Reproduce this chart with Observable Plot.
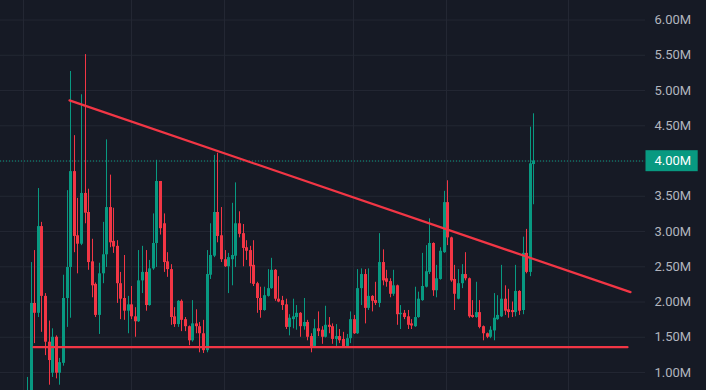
<!DOCTYPE html>
<html>
<head>
<meta charset="utf-8">
<script src="https://cdn.jsdelivr.net/npm/d3@7"></script>
<script src="https://cdn.jsdelivr.net/npm/@observablehq/plot@0.6"></script>
<style>
  html, body { margin: 0; padding: 0; background: #161a25; }
  #chart { width: 706px; height: 390px; overflow: hidden; }
</style>
</head>
<body>
<div id="chart"></div>
<script>
// OHLC values in millions, one entry per candle (left to right)
const open  = [0.55,0.62,1.98,1.84,3.07,2.08,1.43,0.99,1.50,0.99,1.13,2.05,2.49,3.85,2.94,2.82,3.54,3.27,2.57,2.25,1.81,2.40,2.67,3.34,2.86,2.79,2.26,2.05,1.87,1.96,1.79,1.72,2.30,2.42,1.95,2.47,2.83,3.71,3.11,2.57,2.46,1.79,1.68,2.01,1.75,1.65,1.45,1.69,1.65,1.55,1.31,2.38,2.65,3.27,2.94,2.60,2.50,2.60,2.65,3.11,2.97,2.77,2.73,2.52,2.26,2.05,1.88,2.08,2.19,2.45,2.04,2.02,1.96,1.64,1.75,1.78,1.84,1.65,1.71,1.51,1.37,1.62,1.60,1.50,1.67,1.65,1.47,1.51,1.47,1.37,1.48,1.75,1.55,2.19,2.39,1.91,2.08,2.02,1.98,2.56,2.33,2.29,2.11,2.23,1.82,1.84,1.79,1.69,1.65,1.78,2.02,2.21,2.42,2.83,2.16,2.32,2.70,3.41,2.91,2.32,2.04,2.26,2.39,2.33,1.81,1.78,1.85,1.65,1.55,1.50,1.59,1.75,1.79,2.04,1.89,1.88,1.85,2.15,1.88,2.69,2.42,3.95];
const high  = [0.93,2.56,2.73,3.61,3.13,2.12,1.73,1.62,1.52,1.20,2.38,3.58,5.27,4.36,3.47,4.94,5.51,3.60,2.89,2.27,2.55,3.13,4.30,3.80,3.33,2.87,2.42,2.66,2.08,2.22,1.92,2.73,2.79,2.73,2.59,3.25,4.01,3.71,3.25,2.70,2.53,1.92,2.02,2.03,1.78,1.66,2.02,1.89,1.71,1.74,2.73,3.11,4.08,4.11,3.34,2.73,2.69,3.40,3.69,3.28,3.10,2.87,2.79,2.87,2.28,2.21,2.21,2.46,2.62,2.46,2.36,2.08,2.04,1.82,2.04,1.95,1.85,2.05,1.74,1.55,1.75,1.86,1.65,1.94,1.78,1.69,1.68,1.61,1.57,1.54,1.86,1.81,2.46,2.47,2.46,2.47,2.09,2.28,2.97,2.74,2.45,2.33,2.45,2.24,1.95,1.88,1.88,1.75,2.21,2.14,2.69,2.80,3.18,2.84,2.52,2.77,3.57,3.72,2.92,2.52,2.46,2.53,2.70,2.34,2.02,2.28,2.02,1.66,1.56,1.65,2.12,2.09,2.52,2.23,2.18,2.00,2.52,2.16,2.92,3.03,4.48,4.67];
const low   = [0.50,0.58,1.41,1.78,1.57,1.24,0.82,0.93,0.91,0.82,1.09,1.64,1.77,2.70,2.40,2.80,3.11,2.45,2.06,1.78,1.54,2.26,2.49,2.77,2.69,1.98,1.75,1.74,1.55,1.75,1.50,1.71,2.12,1.87,1.94,2.45,2.49,2.95,2.42,2.35,1.67,1.64,1.64,1.58,1.58,1.38,1.43,1.55,1.28,1.27,1.28,2.32,2.63,2.84,2.56,2.49,2.12,2.23,2.49,2.91,2.50,2.59,2.26,2.22,1.84,1.77,1.87,2.07,2.18,2.01,1.99,1.88,1.61,1.52,1.62,1.60,1.50,1.60,1.45,1.28,1.36,1.51,1.40,1.49,1.55,1.40,1.37,1.41,1.35,1.35,1.41,1.54,1.54,1.95,1.69,1.88,1.86,1.95,1.92,2.23,2.21,2.06,2.08,1.67,1.61,1.75,1.61,1.61,1.64,1.77,2.01,2.20,2.39,2.08,2.06,2.31,2.69,2.80,2.28,1.88,2.03,2.19,2.30,1.77,1.77,1.77,1.62,1.45,1.48,1.48,1.45,1.74,1.78,1.81,1.77,1.78,1.79,1.81,1.82,2.40,2.36,3.38];
const close = [0.70,1.98,1.84,3.07,2.08,1.43,1.17,1.50,0.99,1.14,2.05,2.49,3.85,2.93,2.82,3.54,3.26,2.56,2.23,1.81,2.40,2.67,3.34,2.84,2.78,2.26,2.04,1.87,1.96,1.79,1.72,2.30,2.42,1.95,2.47,2.83,3.71,3.04,2.56,2.46,1.78,1.68,2.01,1.74,1.65,1.45,1.69,1.65,1.55,1.31,2.39,2.66,3.27,2.93,2.60,2.50,2.63,2.66,3.11,2.96,2.76,2.72,2.50,2.25,2.05,1.88,2.09,2.19,2.45,2.04,2.00,1.95,1.64,1.77,1.79,1.84,1.65,1.71,1.50,1.36,1.62,1.58,1.50,1.67,1.64,1.47,1.51,1.45,1.36,1.48,1.75,1.55,2.19,2.39,1.91,2.08,2.01,1.98,2.56,2.30,2.28,2.11,2.23,1.82,1.84,1.78,1.67,1.66,1.78,2.04,2.22,2.43,2.83,2.16,2.33,2.72,3.41,2.91,2.30,2.11,2.26,2.39,2.33,1.79,1.78,1.85,1.64,1.55,1.50,1.60,1.77,1.81,2.04,1.87,1.85,1.85,2.15,1.87,2.69,2.42,3.96,4.00];

// price axis ticks (millions)
const yTicks = [1.0, 1.5, 2.0, 2.5, 3.0, 3.5, 4.0, 4.5, 5.0, 5.5, 6.0];
// time grid positions (candle index)
const timeGrid = [-1.14, 28.9, 54.8, 90.8, 116.7, 150.7];
// drawn trendlines: [candle index, value]
const resistance = [[11.67, 4.86], [167.9, 2.14]];
const support = [[1.56, 1.359], [167.0, 1.359]];

const UP = "#089981", DOWN = "#f23645", LINE = "#f23645";
const GRID = "#232733", BG = "#161a25";

const candles = open.map((o, i) => ({i, o, h: high[i], l: low[i], c: close[i]}));
const color = d => d.c >= d.o ? UP : DOWN;
const last = close[close.length - 1];
const fmt = v => v.toFixed(2) + "M";

const chart = Plot.plot({
  width: 706,
  height: 390,
  marginTop: 0, marginBottom: 0, marginLeft: 0, marginRight: 61,
  style: {background: BG, fontFamily: "Roboto, 'Liberation Sans', sans-serif", fontSize: "13px", color: "#b2b5be"},
  x: {type: "linear", domain: [-7.55, 172.1], axis: null, round: true},
  y: {type: "linear", domain: [0.745, 6.277], axis: null},
  marks: [
    Plot.ruleY(yTicks, {stroke: GRID, strokeWidth: 1}),
    Plot.ruleX(timeGrid, {stroke: GRID, strokeWidth: 1}),
    Plot.axisY(yTicks, {anchor: "right", tickSize: 0, tickPadding: 9, tickFormat: fmt, fill: "#b2b5be", fontSize: 13}),
    Plot.ruleY([last], {stroke: UP, strokeDasharray: "1,2", strokeWidth: 1}),
    Plot.ruleX(candles, {x: "i", y1: "l", y2: "h", stroke: color, strokeWidth: 1}),
    Plot.ruleX(candles, {x: "i", y1: "o", y2: "c", stroke: color, strokeWidth: 3}),
    Plot.line(resistance, {x: d => d[0], y: d => d[1], stroke: LINE, strokeWidth: 2.2}),
    Plot.line(support, {x: d => d[0], y: d => d[1], stroke: LINE, strokeWidth: 2.2}),
    Plot.text([last], {y: d => d, frameAnchor: "right", dx: 9, textAnchor: "start", text: fmt, fill: "#ffffff", fontSize: 13, className: "pricelabel"})
  ]
});
document.getElementById("chart").appendChild(chart);

// background box behind the last-price label (placed in the label's own coordinate frame)
const lblNode = chart.querySelector("g.pricelabel text");
if (lblNode) {
  const bb = lblNode.getBBox();
  const rect = document.createElementNS("http://www.w3.org/2000/svg", "rect");
  const tf = lblNode.getAttribute("transform");
  if (tf) rect.setAttribute("transform", tf);
  rect.setAttribute("x", bb.x - 9);
  rect.setAttribute("y", bb.y + bb.height / 2 - 10.5);
  rect.setAttribute("width", bb.width + 15.5);
  rect.setAttribute("height", 21);
  rect.setAttribute("fill", UP);
  lblNode.parentNode.insertBefore(rect, lblNode);
}
</script>
</body>
</html>
